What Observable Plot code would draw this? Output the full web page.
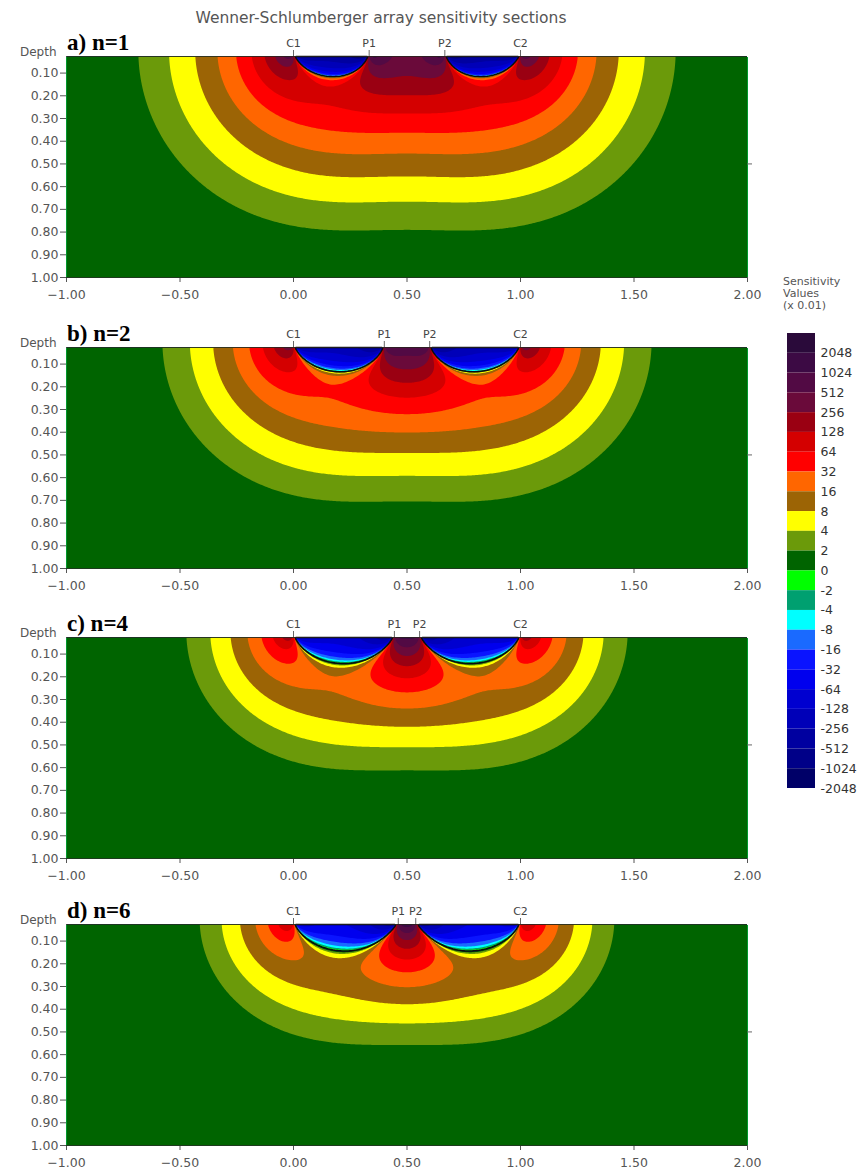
<!DOCTYPE html>
<html><head><meta charset="utf-8">
<script src="https://cdn.jsdelivr.net/npm/d3@7"></script>
<script src="https://cdn.jsdelivr.net/npm/@observablehq/plot@0.6"></script>
<style>
body{margin:0;background:#fff;}
#root{position:relative;width:865px;height:1175px;font-family:"DejaVu Sans",Verdana,sans-serif;overflow:hidden;}
.abs{position:absolute;white-space:nowrap;line-height:1;}
</style></head><body><div id="root"></div>
<script>
const title = "Wenner-Schlumberger array sensitivity sections";
const panelLabels = ["a) n=1", "b) n=2", "c) n=4", "d) n=6"];
const electrodeNames = ["C1", "P1", "P2", "C2"];
// electrode positions C1, P1, P2, C2 for each panel
const electrodesA = [0, 0.3333, 0.6667, 1];
const electrodesB = [0, 0.4, 0.6, 1];
const electrodesC = [0, 0.4444, 0.5556, 1];
const electrodesD = [0, 0.4615, 0.5385, 1];
const valueUnit = 0.01; // sensitivity values shown in units of 0.01
const thresholds = [-1e12, -2048, -1024, -512, -256, -128, -64, -32, -16, -8, -4, -2, 0, 2, 4, 8, 16, 32, 64, 128, 256, 512, 1024, 2048];
const bandColors = ["#000050", "#000068", "#000088", "#0000a0", "#0000b8", "#0000d0", "#0000ee", "#0a14ff", "#1a6aff", "#00ffff", "#00a070", "#00ff00", "#006400", "#6b9a0a", "#ffff00", "#9c6405", "#ff6600", "#ff0000", "#d40000", "#9a0012", "#6a0a3a", "#520a44", "#3c0a44", "#2a0a3a"];
const legendLabels = ["2048", "1024", "512", "256", "128", "64", "32", "16", "8", "4", "2", "0", "-2", "-4", "-8", "-16", "-32", "-64", "-128", "-256", "-512", "-1024", "-2048"];
const xTicks = [-1, -0.5, 0, 0.5, 1, 1.5, 2];
const depthTicks = [0.1, 0.2, 0.3, 0.4, 0.5, 0.6, 0.7, 0.8, 0.9, 1.0];

const FONT = "'DejaVu Sans', Verdana, sans-serif";
const root = document.getElementById("root");
function addText(txt, left, top, style) {
  const d = document.createElement("div");
  d.className = "abs"; d.textContent = txt;
  d.style.left = left + "px"; d.style.top = top + "px";
  Object.assign(d.style, style || {});
  root.appendChild(d); return d;
}

// 2-D sensitivity (Frechet derivative) of a pole-pole pair over a homogeneous half-space,
// the 3-D kernel integrated along strike (y) with a sinh substitution.
const HT = 0.1, NT = 130;
const SH = [], CH = [];
for (let k = 0; k <= NT; k++) { SH.push(Math.sinh(k * HT)); CH.push(Math.cosh(k * HT) * (k === 0 ? 0.5 : 1)); }
function pp2D(x, z, xa, xb) {
  const ax = x - xa, bx = x - xb, z2 = z * z;
  const A = ax * ax + z2, B = bx * bx + z2, D = ax * bx + z2;
  const s2 = Math.min(A, B), s = Math.sqrt(s2);
  let sum = 0;
  for (let k = 0; k <= NT; k++) {
    const y2 = s2 * SH[k] * SH[k];
    const p = (A + y2) * (B + y2);
    sum += (D + y2) / (p * Math.sqrt(p)) * CH[k];
  }
  return 2 * sum * HT * s / (4 * Math.PI * Math.PI);
}
function sensitivity(x, z, e) {
  return (pp2D(x, z, e[0], e[1]) - pp2D(x, z, e[0], e[2]) - pp2D(x, z, e[3], e[1]) + pp2D(x, z, e[3], e[2])) / valueUnit;
}

const GW = 420, GH = 136, ytop = 0.027;
function grid(e) {
  const v = new Float64Array(GW * GH);
  for (let j = 0; j < GH; j++) {
    const z = ytop + (j + 0.5) * (1 - ytop) / GH;
    for (let i = 0; i < GW; i++) {
      const x = -1 + (i + 0.5) * 3 / GW;
      v[j * GW + i] = sensitivity(x, z, e);
    }
  }
  return v;
}

const sets = [electrodesA, electrodesB, electrodesC, electrodesD];
const frameTops = [56, 347, 637, 924];
const FH = 221, MT = 40, MB = 30;
const fmt = d3.format(".2f");
addText(title, 0, 11, {width: "762px", textAlign: "center", fontSize: "15.5px", color: "#555"});
sets.forEach((e, idx) => {
  const vals = grid(e);
  const neg = vals.map(v => -v);
  const svg = Plot.plot({
    width: 865, height: FH + MT + MB,
    marginLeft: 66, marginRight: 118, marginTop: MT, marginBottom: MB,
    style: {fontFamily: FONT, fontSize: "12.5px", color: "#555", background: "transparent"},
    x: {domain: [-1, 2], ticks: xTicks, tickFormat: fmt, tickSize: 5, tickPadding: 8, label: null},
    y: {domain: [1, ytop], ticks: depthTicks, tickFormat: fmt, tickSize: 6, tickPadding: 2, label: null},
    color: {type: "threshold", domain: thresholds.slice(1), range: bandColors},
    marks: [
      Plot.contour(vals, {width: GW, height: GH, x1: -1, x2: 2, y1: ytop, y2: 1, fill: Plot.identity, thresholds: thresholds}),
      Plot.contour(neg, {width: GW, height: GH, x1: -1, x2: 2, y1: ytop, y2: 1, thresholds: [0], fill: "none", stroke: "#0a0a14", strokeWidth: 1.6}),
      Plot.ruleY([1], {stroke: "#1e3a1e"}),
      Plot.ruleY([ytop], {stroke: "#222", strokeOpacity: 0.85}),
      Plot.ruleY([0.5], {x1: 2, x2: 2, insetRight: -5, stroke: "#666"}),
      Plot.ruleX(e, {x: d => d, y1: ytop, y2: ytop, insetTop: -6, stroke: "#666"}),
      Plot.text(e, {x: d => d, y: ytop, text: (d, i) => electrodeNames[i], dy: -13, fontSize: 11, fill: "#444"})
    ]
  });
  const wrap = document.createElement("div");
  wrap.className = "abs"; wrap.style.left = "0px"; wrap.style.top = (frameTops[idx] - MT) + "px";
  wrap.appendChild(svg); root.appendChild(wrap);
  addText(panelLabels[idx], 67, frameTops[idx] - 25, {fontFamily: "'Liberation Serif','Times New Roman',serif", fontWeight: "bold", fontSize: "23px", color: "#000"});
  addText("Depth", 20, frameTops[idx] - 10, {fontSize: "12px", color: "#555"});
});

// legend
addText("Sensitivity", 783, 276, {fontSize: "11px", color: "#555", lineHeight: "12px"});
addText("Values", 783, 288, {fontSize: "11px", color: "#555", lineHeight: "12px"});
addText("(x 0.01)", 783, 300, {fontSize: "11px", color: "#555", lineHeight: "12px"});
const legendBoxes = bandColors.slice(1).reverse().map((c, i) => ({i, c}));
const legendText = legendLabels.map((t, i) => ({i: i + 1, t}));
const leg = Plot.plot({
  width: 78, height: 470, marginLeft: 2, marginRight: 48, marginTop: 5, marginBottom: 10,
  x: {domain: [0, 1], axis: null}, y: {domain: [0, 23], range: [5, 460], axis: null},
  style: {fontFamily: FONT, background: "transparent"},
  marks: [
    Plot.rect(legendBoxes, {x1: 0, x2: 1, y1: d => d.i, y2: d => d.i + 1, fill: d => d.c}),
    Plot.text(legendText, {x: 1, y: "i", text: "t", textAnchor: "start", dx: 5, fontSize: 12.5, fill: "#333"})
  ]
});
const lw = document.createElement("div");
lw.className = "abs"; lw.style.left = "785px"; lw.style.top = "328px";
lw.appendChild(leg); root.appendChild(lw);
</script></body></html>
